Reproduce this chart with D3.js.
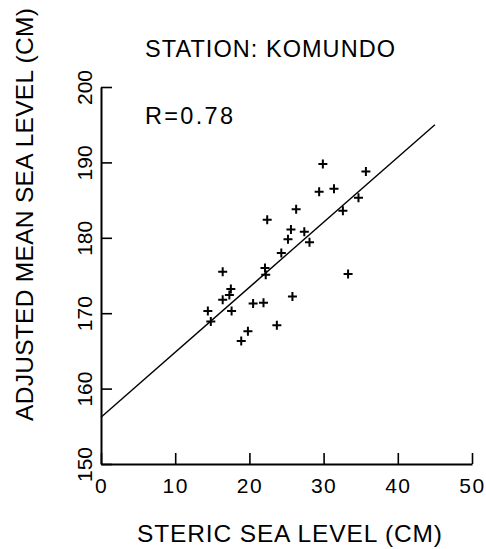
<!DOCTYPE html>
<html>
<head>
<meta charset="utf-8">
<script src="https://cdn.jsdelivr.net/npm/d3@7/dist/d3.min.js"></script>
<style>
  html, body { margin: 0; padding: 0; background: #fff; }
  svg { display: block; }
  text { font-family: "Liberation Sans", Arial, sans-serif; fill: #000; }
</style>
</head>
<body>
<svg id="chart" width="486" height="549"></svg>
<script>
// Steric sea level (cm) vs adjusted mean sea level (cm) at Komundo
const stericLevel = [29.9, 35.7, 29.4, 31.4, 34.7, 26.3, 32.6, 22.4, 25.6, 27.4,
                     25.2, 28.1, 24.3, 22.1, 22.2, 16.4, 33.3, 17.5, 17.3, 16.4,
                     17.6, 20.5, 21.9, 25.8, 14.4, 14.8, 23.7, 19.8, 18.9];
const adjustedMSL = [189.8, 188.8, 186.1, 186.5, 185.3, 183.8, 183.6, 182.4, 181.1, 180.8,
                     179.8, 179.4, 178.0, 176.0, 175.1, 175.5, 175.2, 173.2, 172.4, 171.8,
                     170.3, 171.3, 171.4, 172.2, 170.3, 168.9, 168.4, 167.6, 166.3];

// Least-squares fit endpoints (steric, adjusted)
const fitX = [0, 45];
const fitY = [156.2, 195.0];

const xTicks = [0, 10, 20, 30, 40, 50];
const yTicks = [150, 160, 170, 180, 190, 200];

const titleText = "STATION:  KOMUNDO";
const corrText = "R=0.78";
const xLabel = "STERIC SEA LEVEL (CM)";
const yLabel = "ADJUSTED MEAN SEA LEVEL (CM)";

const svg = d3.select("#chart");
const plotLeft = 101, plotRight = 472, plotTop = 87, plotBottom = 464;

const x = d3.scaleLinear().domain([0, 50]).range([plotLeft, plotRight]);
const y = d3.scaleLinear().domain([150, 200]).range([plotBottom, plotTop]);

// Bottom axis, ticks pointing inward
const gx = svg.append("g")
  .attr("transform", `translate(0,${plotBottom})`)
  .call(d3.axisBottom(x).tickValues(xTicks).tickSize(-11).tickPadding(14).tickSizeOuter(0));
gx.select(".domain").attr("stroke-width", 2);
gx.selectAll(".tick line").attr("stroke-width", 1.6);
gx.selectAll(".tick text").attr("font-size", 21).attr("font-family", null)
  .attr("letter-spacing", 1.5);

// Left axis, ticks pointing inward, labels rotated
const gy = svg.append("g")
  .attr("transform", `translate(${plotLeft},0)`)
  .call(d3.axisLeft(y).tickValues(yTicks).tickSize(-11).tickSizeOuter(0));
gy.select(".domain").attr("stroke-width", 2);
gy.selectAll(".tick line").attr("stroke-width", 1.6);
gy.selectAll(".tick text")
  .attr("font-size", 21).attr("font-family", null)
  .attr("x", null).attr("dy", null)
  .attr("text-anchor", "middle")
  .attr("transform", "translate(-9,0) rotate(-90)");

// Regression line
svg.append("line")
  .attr("x1", x(fitX[0])).attr("y1", y(fitY[0]))
  .attr("x2", x(fitX[1])).attr("y2", y(fitY[1]))
  .attr("stroke", "#000").attr("stroke-width", 1.4);

// Observations as plus markers
const h = 4.5;
svg.append("g").selectAll("path")
  .data(d3.range(stericLevel.length))
  .join("path")
  .attr("d", i => {
    const cx = x(stericLevel[i]), cy = y(adjustedMSL[i]);
    return `M${cx - h},${cy}H${cx + h}M${cx},${cy - h}V${cy + h}`;
  })
  .attr("stroke", "#000").attr("stroke-width", 2).attr("fill", "none");

// Title and correlation
svg.append("text").attr("x", 145).attr("y", 57)
  .attr("font-size", 23.5).attr("textLength", 250).attr("lengthAdjust", "spacing")
  .text(titleText);
svg.append("text").attr("x", 145).attr("y", 124)
  .attr("font-size", 23.5).attr("textLength", 88).attr("lengthAdjust", "spacing")
  .text(corrText);

// Axis titles
svg.append("text").attr("x", 137).attr("y", 541.5)
  .attr("font-size", 24.5).attr("textLength", 305).attr("lengthAdjust", "spacing")
  .text(xLabel);
svg.append("text")
  .attr("transform", "translate(33,421) rotate(-90)")
  .attr("font-size", 24.5).attr("textLength", 413).attr("lengthAdjust", "spacing")
  .text(yLabel);
</script>
</body>
</html>
